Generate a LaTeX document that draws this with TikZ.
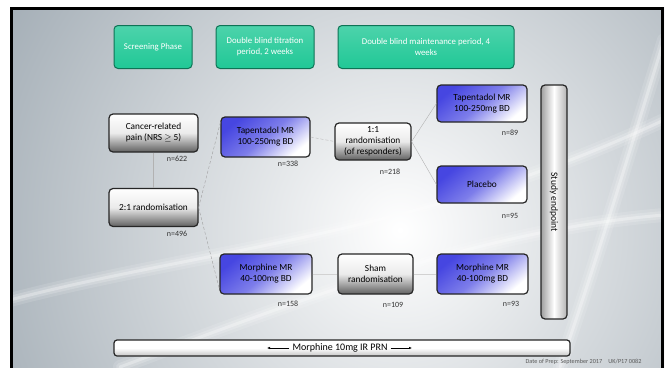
\documentclass[tikz,border=0pt]{standalone}
\usepackage{fontspec}
\setmainfont{Carlito}
\usetikzlibrary{positioning, shapes, arrows.meta, backgrounds}

\begin{document}
\begin{tikzpicture}[x=1pt, y=-1pt,
    phase/.style={draw=cPhaseD, line width=1pt, rounded corners=4pt, top color=cPhase!80!white, bottom color=cPhase, text=white, align=center, font=\fontsize{8.8}{11}\selectfont},
    armbox/.style={draw=black!85, line width=1.2pt, rounded corners=4pt, top color=cArm, bottom color=white, middle color=cArm!70!white, shading angle=40, align=center, font=\fontsize{9.3}{11}\selectfont},
    randbox/.style={draw=black!85, line width=1.2pt, rounded corners=4pt, top color=white, bottom color=black!62, middle color=black!8, align=center, font=\fontsize{9.3}{11}\selectfont},
    ncount/.style={font=\fontsize{8}{9}\selectfont, text=black!80},
    streak/.style={white, line cap=round},
    link/.style={draw=gray!60, line width=.4pt},
    dlink/.style={draw=gray!75, line width=.4pt, densely dashed}]

\definecolor{cPhase}{RGB}{32,200,150}
\definecolor{cPhaseD}{RGB}{14,115,85}
\definecolor{cArm}{RGB}{70,70,225}
\definecolor{cBack}{RGB}{165,175,183}

\useasboundingbox (0,0) rectangle (667,367);

% fondo
\begin{scope}
\clip (10,7) rectangle (664,367);
\fill[cBack] (10,7) rectangle (664,367);
\shade[inner color=white, outer color=cBack] (400,230) circle (450);
\foreach \w/\o in {14/.12, 8/.18, 3/.3} {
  \draw[streak, line width=\w pt, opacity=\o] (10,300) .. controls (200,250) and (420,235) .. (664,120);
  \draw[streak, line width=\w pt, opacity=\o] (120,367) .. controls (300,300) and (480,230) .. (664,215);
  \draw[streak, line width=\w pt, opacity=\o] (560,367) .. controls (600,250) and (630,150) .. (664,40);
}
\end{scope}
\draw[black, line width=3pt] (11.5,370) -- (11.5,8.5) -- (662.5,8.5) -- (662.5,370);

% fases
\node[phase, minimum width=78, minimum height=43] (screen) at (153,47) {Screening Phase};
\node[phase, minimum width=98, minimum height=43] (titr) at (265,47) {Double blind titration\\period, 2 weeks};
\node[phase, minimum width=176, minimum height=43] (maint) at (426,47) {Double blind maintenance period, 4\\weeks};

% cajas
\node[randbox, minimum width=89, minimum height=38] (pain) at (153.5,133) {Cancer-related\\pain (NRS $\geq$ 5)};
\node[randbox, minimum width=89, minimum height=38] (rand21) at (153.5,207.5) {2:1 randomisation};
\node[armbox, minimum width=89, minimum height=40] (tap1) at (265.5,137) {Tapentadol MR\\100-250mg BD};
\node[armbox, minimum width=92, minimum height=40] (mor1) at (266,274) {Morphine MR\\40-100mg BD};
\node[randbox, minimum width=76, minimum height=37, inner sep=1pt] (r11) at (373,141.5) {1:1\\randomisation\\(of responders)};
\node[randbox, minimum width=75, minimum height=40] (sham) at (375.5,274) {Sham\\randomisation};
\node[armbox, minimum width=90, minimum height=37] (tap2) at (482,103.5) {Tapentadol MR\\100-250mg BD};
\node[armbox, minimum width=90, minimum height=37] (plac) at (482,184.5) {Placebo};
\node[armbox, minimum width=91, minimum height=40] (mor2) at (482.5,274) {Morphine MR\\40-100mg BD};

% barras
\node[draw=black!85, line width=1.2pt, rounded corners=4pt, left color=gray!75, right color=gray!60, middle color=white, minimum width=26, minimum height=234] (endp) at (554,202) {};
\node[rotate=-90, font=\fontsize{9.5}{10}\selectfont] (endpt) at (endp.center) {Study endpoint};
\node[draw=black!85, line width=1.2pt, rounded corners=3pt, top color=white, bottom color=gray!45, middle color=white, minimum width=456, minimum height=16] (prnbar) at (342,348) {};
\node[font=\fontsize{10}{11}\selectfont, inner xsep=3pt, inner ysep=1pt] (prn) at (340,348) {Morphine 10mg IR PRN};
\coordinate (prnL) at (267,348);
\coordinate (prnR) at (412,348);
\draw[-{Latex[length=3pt, width=2.5pt]}, line width=.5pt] (prn.west) -- (prnL);
\draw[-{Latex[length=3pt, width=2.5pt]}, line width=.5pt] (prn.east) -- (prnR);

% n
\node[ncount] (n622) at (177,159) {n=622};
\node[ncount] (n496) at (177,234) {n=496};
\node[ncount] (n338) at (288,164) {n=338};
\node[ncount] (n158) at (288,304) {n=158};
\node[ncount] (n218) at (390,172) {n=218};
\node[ncount] (n109) at (393,305) {n=109};
\node[ncount] (n89) at (510,133) {n=89};
\node[ncount] (n95) at (510,216) {n=95};
\node[ncount] (n93) at (511,304) {n=93};

% lineas
\draw[link] (pain) -- (rand21);
\draw[dlink] (rand21.east) -- (tap1.162);
\draw[dlink] (rand21.east) -- (mor1.198);
\draw[dlink, draw=gray!55] (tap1.east) -- (r11.west);
\draw[link] (r11.east) -- (tap2.west);
\draw[link] (r11.east) -- (plac.west);
\draw[link, draw=gray!35] (mor1) -- (sham);
\draw[link, draw=gray!35] (sham) -- (mor2);

\node[anchor=east, font=\fontsize{6.2}{7}\selectfont, text=gray!70!black] (prep) at (645,362) {Date of Prep: September 2017\quad UK/P17 0082};

\end{tikzpicture}
\end{document}
